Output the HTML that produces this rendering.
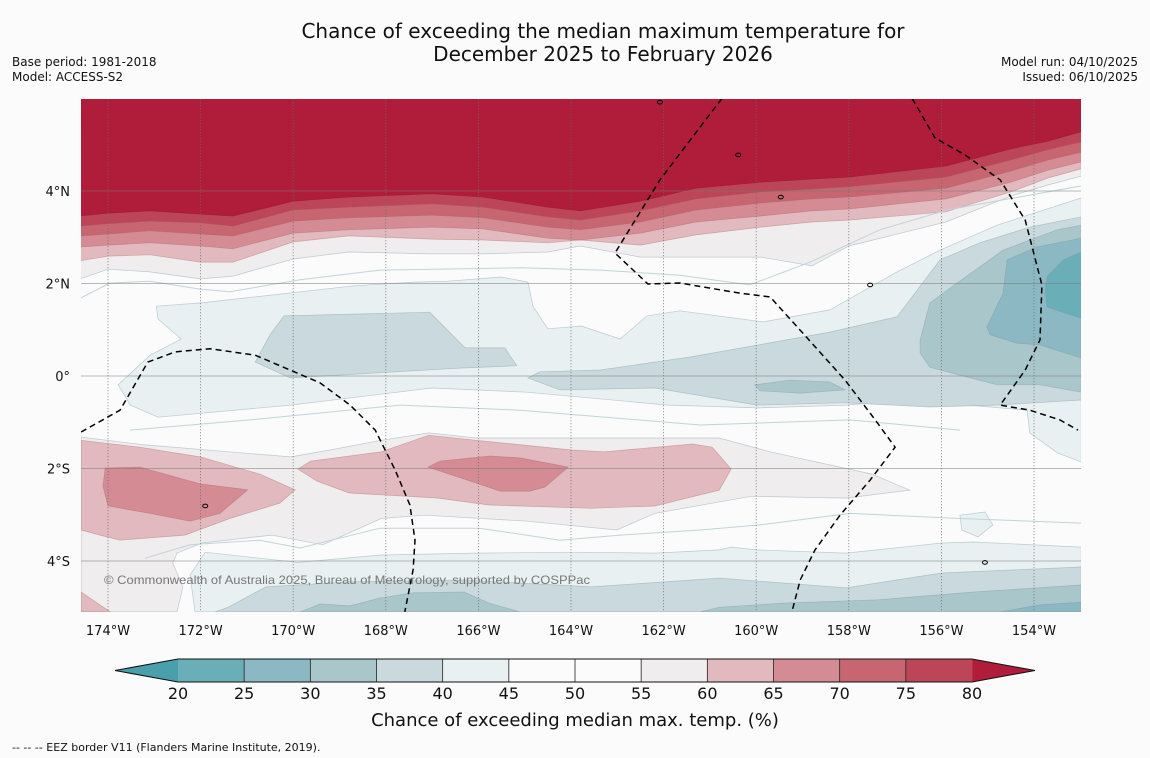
<!DOCTYPE html>
<html><head><meta charset="utf-8"><style>
html,body{margin:0;padding:0;background:#fbfbfb;}
svg{display:block;font-family:"DejaVu Sans","Liberation Sans",sans-serif;}
</style></head>
<body>
<svg id="chart" width="1150" height="758" viewBox="0 0 1150 758">
<rect x="0" y="0" width="1150" height="758" fill="#fbfbfb"/>
<text x="603" y="38" text-anchor="middle" font-size="20" fill="#111">Chance of exceeding the median maximum temperature for</text>
<text x="603" y="61" text-anchor="middle" font-size="20" fill="#111">December 2025 to February 2026</text>
<text x="12" y="66" font-size="12" fill="#111">Base period: 1981-2018</text>
<text x="12" y="81" font-size="12" fill="#111">Model: ACCESS-S2</text>
<text x="1138" y="66" text-anchor="end" font-size="12" fill="#111">Model run: 04/10/2025</text>
<text x="1138" y="81" text-anchor="end" font-size="12" fill="#111">Issued: 06/10/2025</text>
<defs><clipPath id="mapclip"><rect x="81" y="99" width="1000" height="513"/></clipPath></defs>
<g id="map" clip-path="url(#mapclip)"></g>
<g id="axes"></g>
<g id="cbar"></g>
<text x="575" y="726" text-anchor="middle" font-size="18" fill="#111">Chance of exceeding median max. temp. (%)</text>
<text x="12" y="751" font-size="11" fill="#111">--  --  -- EEZ border V11 (Flanders Marine Institute, 2019).</text>
</svg>
<script>
// ---- data ----
const lonTicks = [-174,-172,-170,-168,-166,-164,-162,-160,-158,-156,-154];
const latTicks = [4,2,0,-2,-4];
const cbarTicks = [20,25,30,35,40,45,50,55,60,65,70,75,80];
const cbarColors = ['#6aaeb8','#8bb8c3','#a9c6cb','#c9d9dd','#e9f0f2','#fbfbfb','#fbfbfb','#efeded','#e2b9be','#d58b94','#c76670','#bd4558'];
const northLons = [-174.6,-174,-173.1,-172,-171.3,-170,-168.8,-167,-165.9,-164.5,-163.8,-162.5,-161.3,-159.9,-158.8,-158,-155.9,-154.5,-153.7,-152.98];
const north80 = [3.46,3.52,3.57,3.50,3.46,3.78,3.87,3.94,3.87,3.65,3.57,3.78,4.06,4.19,4.26,4.30,4.54,4.91,5.08,5.28];
const north75 = [3.24,3.29,3.35,3.31,3.24,3.59,3.65,3.72,3.65,3.44,3.37,3.57,3.83,3.98,4.04,4.09,4.30,4.67,4.89,5.06];
const north70 = [3.03,3.07,3.14,3.07,3.03,3.35,3.42,3.48,3.42,3.22,3.16,3.33,3.59,3.74,3.83,3.87,4.06,4.43,4.67,4.84];
const north65 = [2.79,2.83,2.88,2.81,2.75,3.09,3.16,3.22,3.18,2.98,2.94,3.09,3.33,3.46,3.57,3.61,3.83,4.19,4.45,4.63];
const north60 = [2.49,2.59,2.62,2.46,2.46,2.90,3.03,2.96,2.94,2.88,2.94,2.83,3.05,3.22,3.33,3.37,3.55,3.98,4.28,4.48];
const north55 = [2.10,2.31,2.25,2.10,2.16,2.53,2.68,2.64,2.64,2.68,2.81,2.57,2.57,2.57,2.38,2.81,3.33,3.89,4.13,4.32];
const light40 = [[-172.96,1.51],[-171.99,1.58],[-168.69,1.95],[-167.39,2.03],[-166.66,2.05],[-165.51,2.14],[-164.93,2.03],[-164.82,1.51],[-164.50,1.02],[-163.78,1.08],[-162.94,0.80],[-162.36,1.30],[-161.65,1.41],[-159.85,1.17],[-158.41,1.43],[-156.96,2.25],[-156.03,2.72],[-154.80,3.26],[-152.98,3.85],[-152.98,-1.86],[-153.50,-1.66],[-154.09,-1.23],[-154.15,-0.74],[-154.95,-0.67],[-156.68,-0.52],[-158.06,-0.63],[-159.98,-0.69],[-161.91,-0.63],[-164.95,-0.35],[-167.0,-0.26],[-170.05,-0.63],[-172.92,-0.89],[-173.52,-0.63],[-173.78,-0.19],[-173.09,0.45],[-172.42,0.80],[-172.92,1.23]];
const west35 = [[-170.20,1.30],[-167.05,1.38],[-166.29,0.61],[-165.43,0.61],[-165.17,0.22],[-166.40,0.17],[-168.99,0.02],[-170.07,-0.04],[-170.82,0.30],[-170.50,0.89]];
const east35 = [[-158.41,0.95],[-156.96,1.28],[-156.03,2.51],[-155.17,2.88],[-154.09,3.22],[-152.98,3.44],[-152.98,-0.52],[-154.80,-0.63],[-156.25,-0.67],[-158.06,-0.58],[-159.98,-0.63],[-162.19,-0.26],[-164.24,-0.30],[-164.93,-0.04],[-164.67,0.09],[-163.37,0.13],[-161.43,0.41],[-160.07,0.65]];
const lens30 = [[-160.03,-0.19],[-159.27,-0.09],[-158.41,-0.13],[-158.08,-0.30],[-159.05,-0.37],[-159.92,-0.32]];
const east30 = [[-156.46,0.78],[-156.25,1.58],[-155.66,2.01],[-154.67,2.72],[-153.50,3.16],[-152.98,3.26],[-152.98,-0.35],[-153.87,-0.19],[-154.80,-0.19],[-155.60,0.02],[-156.25,0.19],[-156.46,0.50]];
const east25 = [[-155.02,1.06],[-154.67,1.79],[-154.58,2.51],[-153.94,2.79],[-152.98,2.98],[-152.98,0.39],[-153.87,0.67],[-154.37,0.71],[-154.95,0.89]];
const east20 = [[-153.72,2.14],[-153.37,2.51],[-152.98,2.68],[-152.98,1.25],[-153.72,1.49],[-153.76,1.86]];
const lensLight = [[-155.60,-3.01],[-155.06,-2.94],[-154.89,-3.22],[-155.21,-3.48],[-155.56,-3.33]];
const south55 = [[-174.58,-1.32],[-173.20,-1.49],[-170.05,-1.75],[-169.21,-1.60],[-168.10,-1.39],[-167.07,-1.23],[-166.05,-1.34],[-163.57,-1.34],[-160.80,-1.34],[-159.70,-1.64],[-157.50,-2.12],[-156.68,-2.47],[-158.06,-2.64],[-160.11,-2.60],[-162.19,-2.97],[-163.01,-3.33],[-164.95,-3.14],[-167.15,-3.01],[-168.10,-3.08],[-169.36,-3.65],[-170.46,-3.44],[-171.97,-3.61],[-172.51,-3.83],[-172.60,-4.05],[-172.38,-4.56],[-172.51,-5.1],[-174.58,-5.1]];
const pinkWest = [[-174.58,-1.39],[-173.31,-1.54],[-172.01,-1.75],[-170.72,-2.12],[-169.96,-2.46],[-170.29,-2.75],[-171.37,-3.08],[-172.34,-3.44],[-173.74,-3.55],[-174.17,-3.44],[-174.58,-3.33]];
const pinkMid = [[-169.90,-2.01],[-169.62,-1.84],[-168.10,-1.64],[-167.07,-1.28],[-166.05,-1.39],[-163.98,-1.60],[-163.29,-1.64],[-161.37,-1.47],[-160.95,-1.54],[-160.54,-2.01],[-160.80,-2.47],[-162.19,-2.81],[-163.57,-2.86],[-165.77,-2.79],[-166.87,-2.64],[-168.79,-2.53],[-169.49,-2.27]];
const rose65Mid = [[-167.09,-1.97],[-166.83,-1.84],[-165.75,-1.73],[-165.10,-1.77],[-164.06,-1.97],[-164.56,-2.40],[-164.89,-2.49],[-165.53,-2.49],[-166.18,-2.27]];
const rose65West = [[-174.06,-1.99],[-173.31,-1.97],[-172.01,-2.33],[-170.98,-2.46],[-171.58,-2.97],[-172.23,-3.14],[-173.09,-2.97],[-174.0,-2.81],[-174.11,-2.38]];
const pinkCorner = [[-174.58,-4.67],[-173.95,-5.1],[-174.58,-5.1]];
const south40 = [[-171.90,-3.81],[-169.90,-4.03],[-168.10,-3.87],[-166.05,-3.83],[-163.98,-3.81],[-162.19,-3.83],[-160.80,-3.76],[-160.54,-3.70],[-159.98,-3.76],[-158.06,-3.83],[-155.99,-3.61],[-155.30,-3.59],[-152.98,-3.70],[-152.98,-5.1],[-172.12,-5.1],[-172.23,-4.30]];
const south35 = [[-170.59,-4.56],[-168.79,-4.45],[-166.31,-4.41],[-163.57,-4.56],[-160.80,-4.37],[-158.06,-4.58],[-155.99,-4.26],[-152.98,-4.13],[-152.98,-5.1],[-171.69,-5.1],[-171.41,-5.0]];
const south30a = [[-169.85,-5.1],[-169.42,-4.93],[-168.77,-4.97],[-168.13,-4.80],[-167.41,-4.69],[-166.31,-4.67],[-165.77,-4.91],[-165.10,-5.1]];
const south30b = [[-161.21,-5.1],[-160.80,-5.0],[-159.42,-4.91],[-157.37,-4.84],[-155.30,-4.67],[-152.98,-4.52],[-152.98,-5.1]];
const south25 = [[-154.73,-5.1],[-153.87,-4.95],[-152.98,-4.89],[-152.98,-5.1]];
const contourNorth = [[-174.58,1.69],[-173.96,2.01],[-173.09,2.05],[-172.01,1.88],[-171.37,1.82],[-169.85,2.08],[-168.13,2.29],[-165.10,2.34],[-163.37,2.29],[-161.65,2.18],[-160.14,1.97],[-158.84,2.46],[-157.33,3.16],[-155.88,3.59],[-152.98,4.11]];
const contourMid = [[-173.52,-1.17],[-170.93,-0.95],[-167.69,-0.63],[-165.10,-0.74],[-161.21,-1.06],[-157.97,-0.95],[-155.60,-1.17]];
const contourSouth = [[-173.20,-3.94],[-172.23,-3.65],[-170.72,-3.55],[-169.85,-3.72],[-168.13,-3.29],[-165.97,-3.29],[-164.24,-3.55],[-162.94,-3.44],[-161.21,-3.33],[-159.92,-3.22],[-157.97,-2.97],[-155.60,-3.08],[-152.98,-3.18]];
const eezWest = [[-174.58,-1.21],[-173.74,-0.74],[-173.14,0.30],[-172.55,0.52],[-171.80,0.59],[-170.82,0.45],[-170.07,0.13],[-169.42,-0.15],[-168.77,-0.63],[-168.23,-1.17],[-167.80,-2.03],[-167.48,-2.79],[-167.37,-3.55],[-167.41,-4.19],[-167.59,-5.1]];
const eezMid = [[-160.74,6.0],[-162.08,4.24],[-163.05,2.66],[-162.34,1.99],[-161.65,2.01],[-160.35,1.79],[-159.70,1.71],[-159.05,0.99],[-158.08,-0.09],[-157.43,-0.95],[-157.0,-1.54],[-157.54,-2.25],[-158.19,-3.01],[-158.73,-3.76],[-159.05,-4.41],[-159.23,-5.1]];
const eezEast = [[-156.63,6.0],[-156.14,5.15],[-155.49,4.78],[-154.73,4.24],[-154.19,3.37],[-153.83,1.97],[-153.87,0.78],[-154.19,0.13],[-154.73,-0.63],[-154.09,-0.74],[-153.44,-0.95],[-153.05,-1.17]];
const islands = [[-159.47,3.87],[-157.54,1.97],[-171.90,-2.81],[-155.06,-4.03],[-162.08,5.92],[-160.39,4.78]];

// ---- scales ----
const LON0=-174.58, LON1=-152.98, LAT0=-5.1, LAT1=6.0;
function xs(lon){ return 108 + (lon + 174) * 46.3; }
function ys(lat){ return 191 - (lat - 4) * 46.25; }
const NS='http://www.w3.org/2000/svg';
function mk(tag, attrs, parent){ const e=document.createElementNS(NS,tag); for(const k in attrs) e.setAttribute(k,attrs[k]); parent.appendChild(e); return e; }
function pts(arr){ return arr.map(p=>xs(p[0]).toFixed(1)+','+ys(p[1]).toFixed(1)).join(' '); }
const map=document.getElementById('map');
const axes=document.getElementById('axes');
const cbar=document.getElementById('cbar');

function region(arr, fill, stroke, name){
  const e=mk('polygon',{points:pts(arr),fill:fill,stroke:stroke,'stroke-width':0.7},map);
  
  
  return e;
}
function northBand(lats, fill, stroke, name){
  const arr = northLons.map((lo,i)=>[lo,lats[i]]);
  arr.push([LON1,LAT1]); arr.push([LON0,LAT1]);
  return region(arr, fill, stroke, name);
}
const bS='rgba(120,150,160,0.45)', rS='rgba(160,90,100,0.4)';
region(light40,'#e9f0f2',bS,'band-40-45');
region(lensLight,'#e9f0f2',bS,'band-40-45-lens');
region(west35,'#c9d9dd',bS,'band-35-40-west');
region(east35,'#c9d9dd',bS,'band-35-40-east');
region(lens30,'#a9c6cb',bS,'band-30-35-lens');
region(east30,'#a9c6cb',bS,'band-30-35-east');
region(east25,'#8bb8c3',bS,'band-25-30-east');
region(east20,'#6aaeb8',bS,'band-20-25-east');
region(south55,'#efeded',bS,'band-55-60-south');
region(pinkWest,'#e2b9be',rS,'band-60-65-west');
region(pinkMid,'#e2b9be',rS,'band-60-65-mid');
region(rose65Mid,'#d58b94',rS,'band-65-70-mid');
region(rose65West,'#d58b94',rS,'band-65-70-west');
region(pinkCorner,'#e2b9be',rS,'band-60-65-corner');
region(south40,'#e9f0f2',bS,'band-40-45-south');
region(south35,'#c9d9dd',bS,'band-35-40-south');
region(south30a,'#a9c6cb',bS,'band-30-35-south-a');
region(south30b,'#a9c6cb',bS,'band-30-35-south-b');
region(south25,'#8bb8c3',bS,'band-25-30-south');
northBand(north55,'#efeded',bS,'band-55-60-north');
northBand(north60,'#e2b9be',rS,'band-60-65-north');
northBand(north65,'#d58b94',rS,'band-65-70-north');
northBand(north70,'#c76670',rS,'band-70-75-north');
northBand(north75,'#bd4558',rS,'band-75-80-north');
northBand(north80,'#b01d3a','rgba(140,20,40,0.5)','band-above-80-north');

[contourNorth, contourMid, contourSouth].forEach((c,i)=>{
  const e=mk('polyline',{points:pts(c),fill:'none',stroke:'#c3d3d9','stroke-width':1},map);
  
  
});

// gridlines
lonTicks.forEach(lo=>{
  const e=mk('line',{x1:xs(lo),x2:xs(lo),y1:99,y2:612,stroke:'#6a6a6a','stroke-width':0.8,'stroke-dasharray':'1.2,1.8',opacity:0.8},map);
  
  
});
latTicks.forEach(la=>{
  const e=mk('line',{x1:81,x2:1081,y1:ys(la),y2:ys(la),stroke:'#777','stroke-width':1,opacity:0.5},map);
  
  
});

// EEZ
[eezWest, eezMid, eezEast].forEach((c,i)=>{
  const e=mk('polyline',{points:pts(c),fill:'none',stroke:'#000','stroke-width':1.5,'stroke-dasharray':'6,4'},map);
  
  
});
islands.forEach(p=>{
  const e=mk('ellipse',{cx:xs(p[0]),cy:ys(p[1]),rx:2.5,ry:1.8,fill:'none',stroke:'#000','stroke-width':1},map);
  
  
});
const cp=mk('text',{x:104,y:584,'font-size':12,fill:'#777','font-family':'"Liberation Sans",sans-serif',textLength:486,lengthAdjust:'spacingAndGlyphs'},map);
cp.textContent='© Commonwealth of Australia 2025, Bureau of Meteorology, supported by COSPPac';



// axis labels
lonTicks.forEach(lo=>{
  const t=mk('text',{x:xs(lo),y:635,'text-anchor':'middle','font-size':13,fill:'#111'},axes);
  t.textContent=Math.abs(lo)+'°W';
  
  
});
latTicks.forEach(la=>{
  const t=mk('text',{x:70,y:ys(la)+5,'text-anchor':'end','font-size':13,fill:'#111'},axes);
  t.textContent = la===0 ? '0°' : Math.abs(la)+'°'+(la>0?'N':'S');
  
  
});

// colorbar
const cbX0=178, cbX1=972, cbY=659, cbH=23;
const segW=(cbX1-cbX0)/cbarColors.length;
const under=mk('polygon',{points:`${cbX0},${cbY} 115,${cbY+cbH/2} ${cbX0},${cbY+cbH}`,fill:'#4a9fad'},cbar);


const over=mk('polygon',{points:`${cbX1},${cbY} 1035,${cbY+cbH/2} ${cbX1},${cbY+cbH}`,fill:'#b01d3a'},cbar);


cbarColors.forEach((c,i)=>{
  const r=mk('rect',{x:cbX0+i*segW,y:cbY,width:segW+0.5,height:cbH,fill:c},cbar);
  
  
});
cbarColors.forEach((c,i)=>{ if(i>0){
  const l=mk('line',{x1:cbX0+i*segW,x2:cbX0+i*segW,y1:cbY,y2:cbY+cbH,stroke:'#222','stroke-width':0.8},cbar);
  
  
}});
const outline=mk('polygon',{points:`115,${cbY+cbH/2} ${cbX0},${cbY} ${cbX1},${cbY} 1035,${cbY+cbH/2} ${cbX1},${cbY+cbH} ${cbX0},${cbY+cbH}`,fill:'none',stroke:'#111','stroke-width':1},cbar);


cbarTicks.forEach((v,i)=>{
  const t=mk('text',{x:cbX0+i*segW,y:cbY+cbH+17,'text-anchor':'middle','font-size':16,fill:'#111'},cbar);
  t.textContent=v;
  
  
});
</script>
</body></html>
